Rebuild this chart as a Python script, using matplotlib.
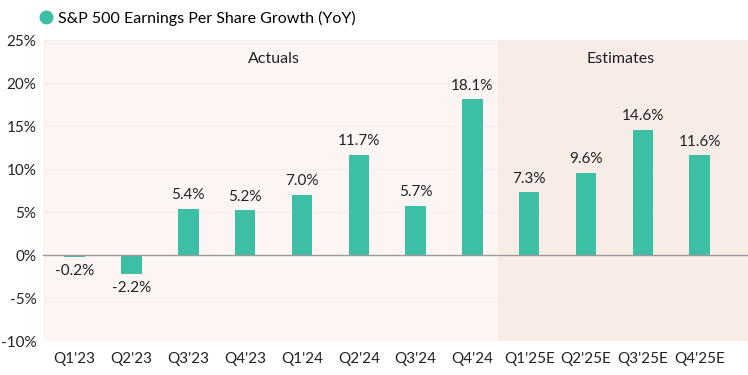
import matplotlib.pyplot as plt
from matplotlib.lines import Line2D

plt.rcParams["font.family"] = ["Lato", "DejaVu Sans"]

# Data
quarters = ["Q1'23", "Q2'23", "Q3'23", "Q4'23", "Q1'24", "Q2'24", "Q3'24", "Q4'24",
            "Q1'25E", "Q2'25E", "Q3'25E", "Q4'25E"]
eps_growth = [-0.2, -2.2, 5.4, 5.2, 7.0, 11.7, 5.7, 18.1, 7.3, 9.6, 14.6, 11.6]
n_actual = 8

teal = "#3dbfa5"
text_color = "#222222"

fig = plt.figure(figsize=(7.48, 3.75), dpi=100)
ax = fig.add_axes([0.058, 0.09, 0.942, 0.803])

x = list(range(len(quarters)))
ax.set_xlim(-0.55, 11.85)
ax.set_ylim(-10, 25)

# Shaded regions
ax.axvspan(-0.55, n_actual - 0.55, color="#fcf5f3", zorder=0)
ax.axvspan(n_actual - 0.55, 11.85, color="#f8ece6", zorder=0)

# Faint gridlines
for y in range(-5, 26, 5):
    ax.axhline(y, color="#f4ebe8", lw=0.5, zorder=1)
ax.axhline(0, color="#9a9a9a", lw=1.0, zorder=3)

ax.bar(x, eps_growth, width=0.36, color=teal, zorder=2)

for xi, v in zip(x, eps_growth):
    if v >= 0:
        ax.text(xi, v + 0.8, f"{v:.1f}%", ha="center", va="bottom", fontsize=11, color=text_color)
    else:
        ax.text(xi, v - 0.8, f"{v:.1f}%", ha="center", va="top", fontsize=11, color=text_color)

ax.text(3.5, 22.8, "Actuals", ha="center", va="center", fontsize=11.5, color=text_color)
ax.text(9.6, 22.8, "Estimates", ha="center", va="center", fontsize=11.5, color=text_color)

ax.set_xticks(x)
ax.set_xticklabels(quarters, fontsize=11, color=text_color)
ax.set_yticks(range(-10, 26, 5))
ax.set_yticklabels([f"{t}%" for t in range(-10, 26, 5)], fontsize=11, color=text_color)
ax.tick_params(axis="x", length=0, pad=8)
ax.tick_params(axis="y", length=0, pad=5)
for s in ax.spines.values():
    s.set_visible(False)

handle = Line2D([0], [0], marker="o", color="none", markerfacecolor=teal,
                markeredgecolor=teal, markersize=9)
fig.legend([handle], ["S&P 500 Earnings Per Share Growth (YoY)"], loc="upper left",
           bbox_to_anchor=(0.03, 1.01), frameon=False, fontsize=11.5,
           handletextpad=0.1, handlelength=1.2)

fig.savefig("out.png", dpi=100)
